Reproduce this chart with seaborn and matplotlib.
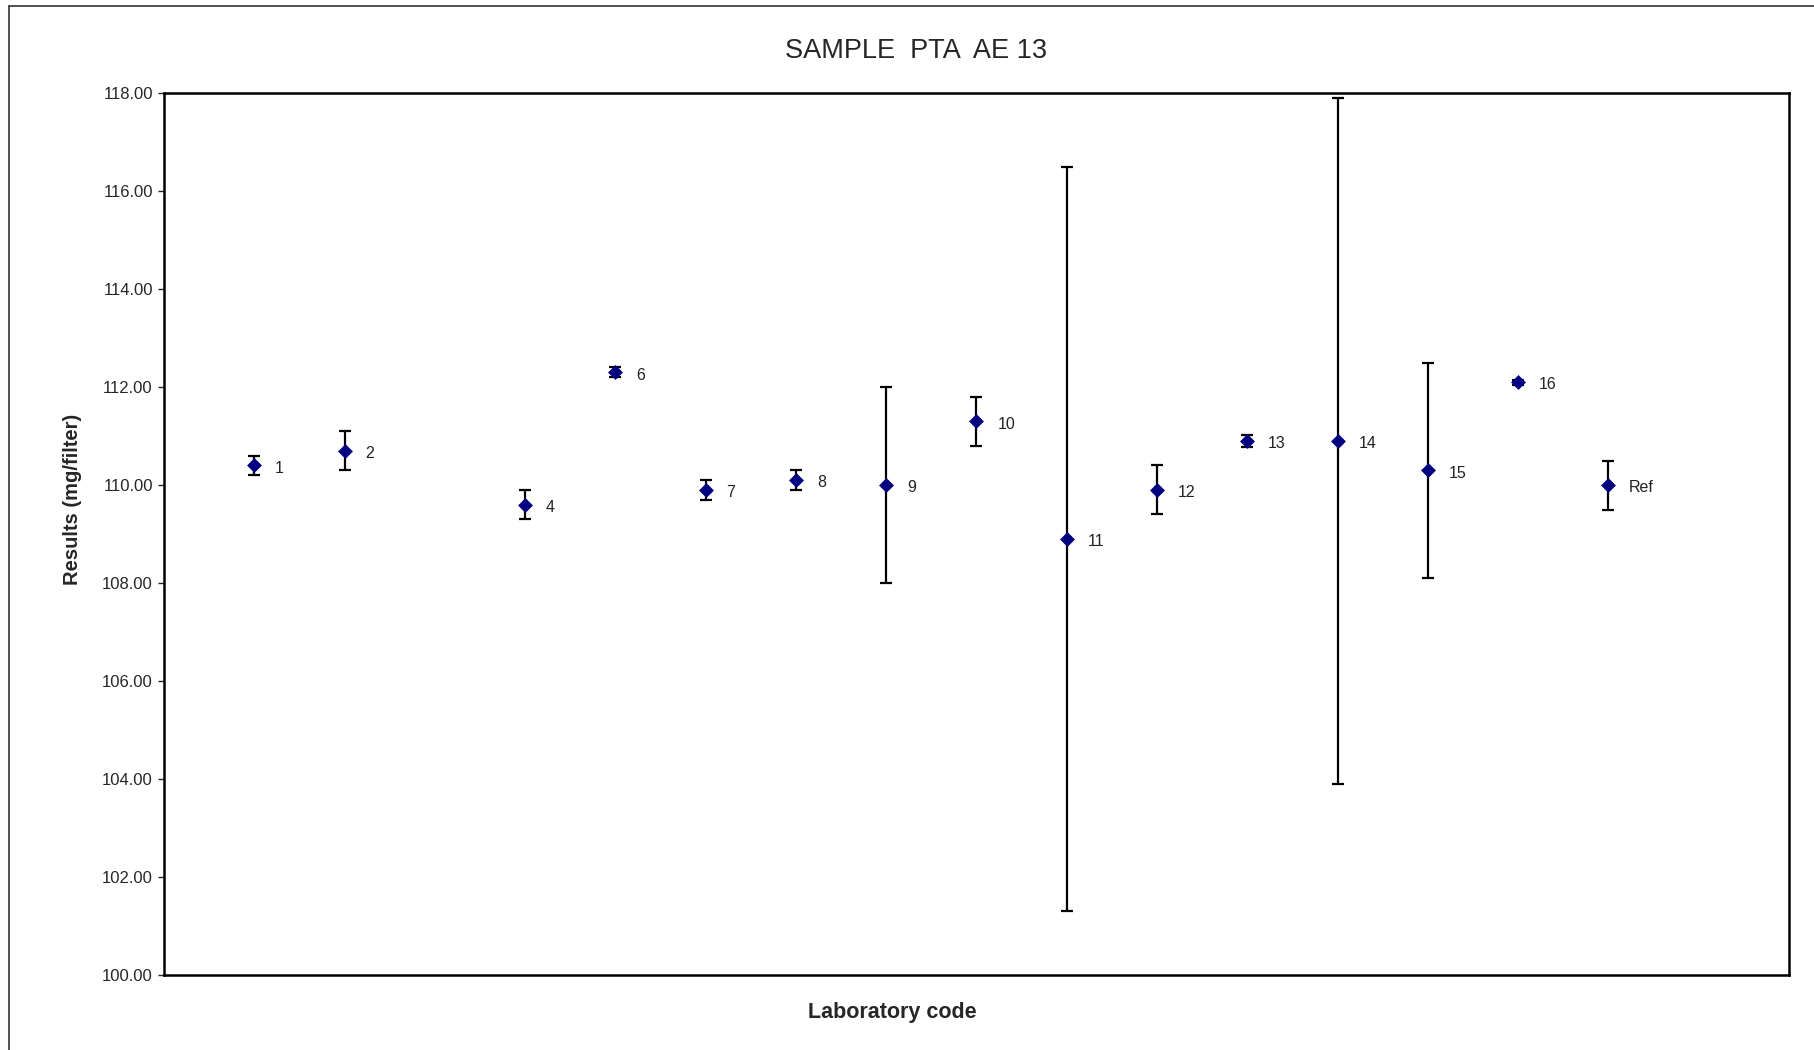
import numpy as np
import pandas as pd
import matplotlib
matplotlib.use("Agg")
import matplotlib.pyplot as plt
from matplotlib.lines import Line2D
import seaborn as sns

# Lab results (lab 3 reported nothing)
lab_codes = ["1", "2", "3", "4", "6", "7", "8", "9", "10", "11", "12", "13", "14", "15", "16", "Ref"]
results = [110.4, 110.7, np.nan, 109.6, 112.3, 109.9, 110.1, 110.0, 111.3, 108.9, 109.9, 110.9, 110.9, 110.3, 112.1, 110.0]
uncertainty = [0.2, 0.4, np.nan, 0.3, 0.1, 0.2, 0.2, 2.0, 0.5, 7.6, 0.5, 0.13, 7.0, 2.2, 0.05, 0.5]

df = pd.DataFrame({"code": lab_codes, "result": results, "unc": uncertainty})
df["pos"] = np.arange(1, len(df) + 1)
df = df.dropna()

sns.set_style("white")
plt.rcParams["font.family"] = ["Liberation Sans", "DejaVu Sans"]

fig = plt.figure(figsize=(18.14, 10.5), dpi=100)
ax = fig.add_axes([0.0904, 0.0714, 0.8958, 0.84])

# error bars first, then the diamonds on top
ax.errorbar(df["pos"], df["result"], yerr=df["unc"], fmt="none", ecolor="black",
            elinewidth=1.6, capsize=4, capthick=1.6, zorder=2)
sns.scatterplot(data=df, x="pos", y="result", marker="D", s=50, color="#000080",
                edgecolor="#000080", linewidth=0.5, ax=ax, zorder=3)

for _, row in df.iterrows():
    ax.annotate(row["code"], (row["pos"], row["result"]), xytext=(15, -2),
                textcoords="offset points", fontsize=11.5, color="#222222", va="center")

ax.set_xlim(0, 18)
ax.set_ylim(100, 118)
ax.set_yticks(np.arange(100, 118.1, 2))
ax.set_yticklabels([f"{v:.2f}" for v in np.arange(100, 118.1, 2)], fontsize=12)
ax.set_xticks([])
ax.tick_params(axis="y", direction="out", length=4, width=1, left=True, pad=4)
for s in ax.spines.values():
    s.set_color("black")
    s.set_linewidth(1.8)

ax.set_xlabel("")
ax.set_ylabel("")
fig.text(0.492, 0.036, "Laboratory code", fontsize=15.5, fontweight="bold", ha="center", va="center")
fig.text(0.040, 0.524, "Results (mg/filter)", fontsize=14.5, fontweight="bold", rotation=90,
         ha="center", va="center")
fig.text(0.505, 0.951, "SAMPLE  PTA  AE 13", fontsize=19.5, ha="center", va="center")

# outer chart-area frame (only top and left edges show in the crop)
fig.add_artist(Line2D([0.005, 0.005], [0.0, 0.9943], color="#333333", lw=1.2))
fig.add_artist(Line2D([0.005, 1.0], [0.9943, 0.9943], color="#333333", lw=1.2))

fig.savefig("out.png", dpi=100)
